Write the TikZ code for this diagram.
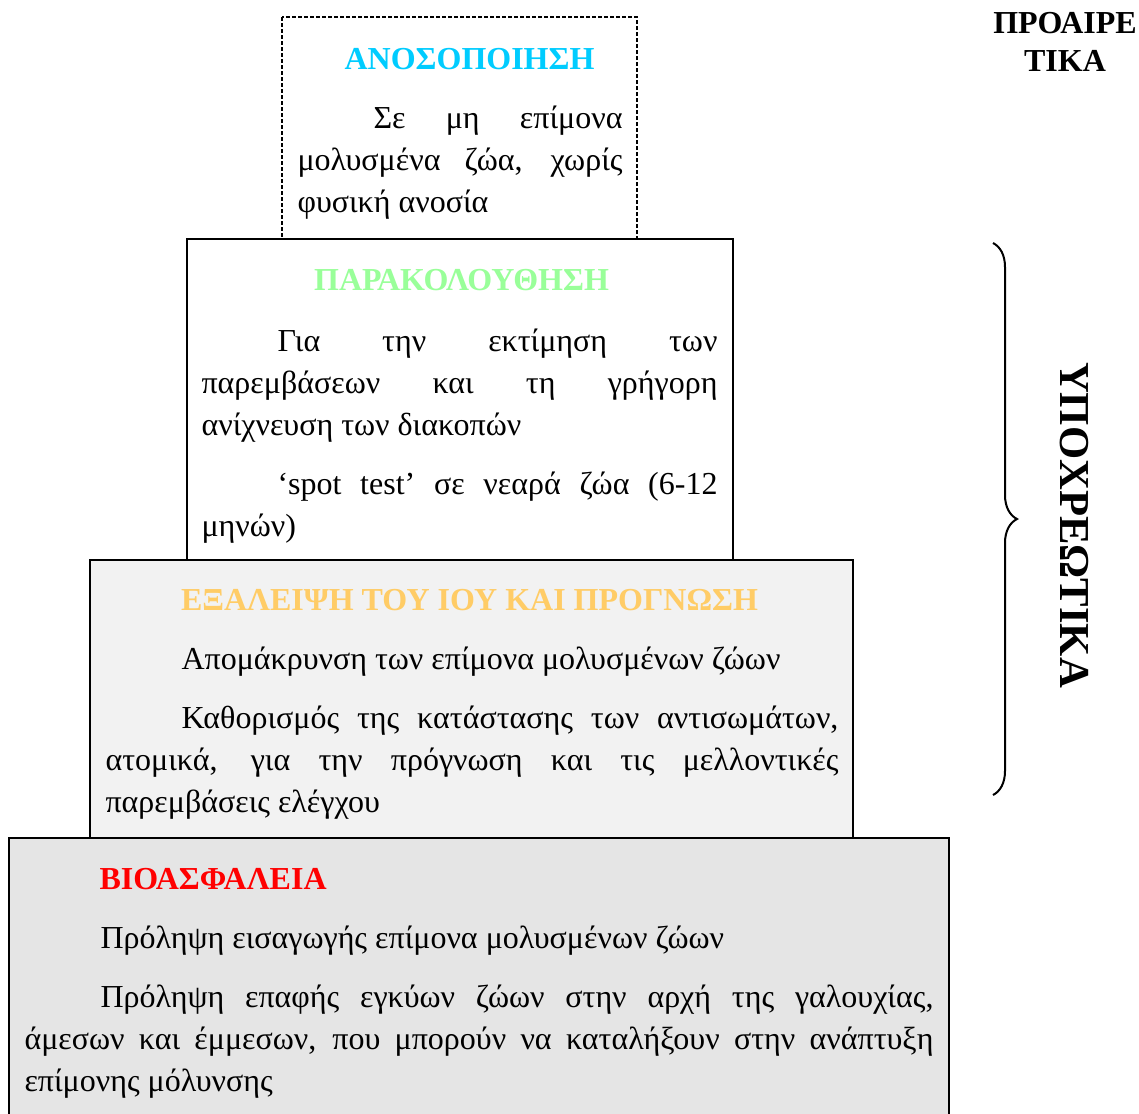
\documentclass[tikz,border=0pt]{standalone}
\usepackage{fontspec}
\setmainfont{Liberation Serif}
\usetikzlibrary{decorations.pathreplacing}
\definecolor{anosocyan}{HTML}{00CCFF}
\definecolor{parakgreen}{HTML}{99FF99}
\definecolor{exalorange}{HTML}{FFCC66}
\definecolor{bioared}{HTML}{FF0000}
\definecolor{exalfill}{HTML}{F2F2F2}
\definecolor{bioafill}{HTML}{E5E5E5}
\newcommand{\ind}{\hspace*{28.5pt}}
\begin{document}
\begin{tikzpicture}[x=0.375pt, y=-0.375pt,
  boxline/.style={draw=black, line width=0.75pt},
  dashbox/.style={draw=black, line width=0.75pt, dash pattern=on 1.5pt off 0.75pt},
  bodytext/.style={anchor=base west, inner sep=0pt, align=justify,
    font=\fontsize{12pt}{15.75pt}\selectfont,
    execute at begin node={\setlength{\parskip}{6.375pt}\hbadness=10000}},
  titletext/.style={anchor=base, inner sep=0pt, font=\fontsize{12pt}{15.75pt}\selectfont\bfseries}]
\useasboundingbox (0,0) rectangle (1139,1113);
% the four steps, from the top down
\draw[dashbox, fill=white] (282,17) rectangle (637,239);
\draw[boxline, fill=white] (187,239) rectangle (733,560);
\draw[boxline, fill=exalfill] (90,560) rectangle (853,838);
\draw[boxline, fill=bioafill] (9,838) rectangle (949,1130);
% anosopoiisi
\node[titletext, text=anosocyan] (anosotitle) at (469.5,69) {ΑΝΟΣΟΠΟΙΗΣΗ};
\node[bodytext, text width=121.875pt] (anosotext) at (297,128)
  {\ind Σε μη επίμονα \linebreak μολυσμένα ζώα, χωρίς \linebreak φυσική ανοσία};
% parakolouthisi
\node[titletext, text=parakgreen] (paraktitle) at (461.5,290) {ΠΑΡΑΚΟΛΟΥΘΗΣΗ};
\node[bodytext, text width=193.5pt] (paraktext) at (201,351)
  {\ind Για την εκτίμηση των \linebreak παρεμβάσεων και τη γρήγορη \linebreak ανίχνευση των διακοπών\par
   \ind ‘spot test’ σε νεαρά ζώα (6-12 \linebreak μηνών)};
% exaleipsi
\node[titletext, text=exalorange] (exaltitle) at (469.5,610) {ΕΞΑΛΕΙΨΗ ΤΟΥ ΙΟΥ ΚΑΙ ΠΡΟΓΝΩΣΗ};
\node[bodytext, text width=274.875pt] (exaltext) at (105,669)
  {\ind Απομάκρυνση των επίμονα μολυσμένων ζώων\par
   \ind Καθορισμός της κατάστασης των αντισωμάτων, \linebreak ατομικά, για την πρόγνωση και τις μελλοντικές \linebreak παρεμβάσεις ελέγχου};
% bioasfaleia
\node[titletext, text=bioared, anchor=base west] (bioatitle) at (99,889) {ΒΙΟΑΣΦΑΛΕΙΑ};
\node[bodytext, text width=340.875pt] (bioatext) at (24,948)
  {\ind Πρόληψη εισαγωγής επίμονα μολυσμένων ζώων\par
   \ind Πρόληψη επαφής εγκύων ζώων στην αρχή της γαλουχίας, \linebreak άμεσων και έμμεσων, που μπορούν να καταλήξουν στην ανάπτυξη \linebreak επίμονης μόλυνσης};
% right side
\node[titletext, text width=60pt, align=center, font=\fontsize{12pt}{14.25pt}\selectfont\bfseries] (proairetika) at (1065,33) {ΠΡΟΑΙΡΕ\\ΤΙΚΑ};
\coordinate (bracetop) at (993,243);
\coordinate (bracebot) at (993,795);
\draw[line width=0.75pt, decorate, decoration={brace, amplitude=9pt}] (bracetop) -- (bracebot);
\node[titletext, rotate=-90, font=\fontsize{16pt}{18pt}\selectfont\bfseries] (ypoxreotika) at (1060,525) {ΥΠΟΧΡΕΩΤΙΚΑ};
\end{tikzpicture}
\end{document}
